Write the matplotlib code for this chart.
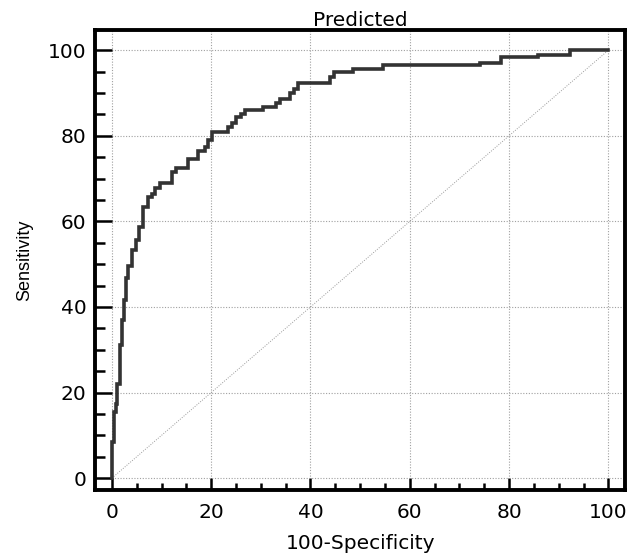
import matplotlib
matplotlib.use("Agg")
import matplotlib.pyplot as plt
from matplotlib.ticker import MultipleLocator

plt.rcParams['font.family'] = ['DejaVu Sans']

# ROC curve (100-Specificity, Sensitivity)
fpr = [0, 0, 0.4, 0.8, 1.1, 1.7, 2.1, 2.4, 2.8, 3.3, 4.0, 4.8, 5.5, 6.3, 7.3, 8.0,
       8.7, 9.7, 12.2, 13.0, 15.4, 17.4, 18.8, 19.4, 20.1, 23.4, 24.1, 25.0, 26.1,
       26.8, 30.4, 33.1, 33.9, 35.9, 36.6, 37.4, 43.9, 44.8, 48.6, 54.7, 74.2,
       78.4, 85.8, 92.3, 100]
tpr = [0, 8.5, 15.5, 17.3, 22.1, 31.1, 36.9, 41.6, 46.7, 49.5, 53.3, 55.6, 58.6,
       63.4, 65.7, 66.5, 67.7, 69.0, 71.6, 72.4, 74.5, 76.5, 77.4, 79.0, 80.9,
       82.1, 82.9, 84.4, 85.2, 86.1, 86.8, 87.7, 88.5, 90.0, 91.0, 92.4, 93.8,
       94.9, 95.5, 96.6, 97.1, 98.3, 98.8, 100, 100]
ticks = [0, 20, 40, 60, 80, 100]

fig = plt.figure(figsize=(6.29, 5.57), dpi=100)
ax = fig.add_axes([0.151, 0.120, 0.843, 0.826])

ax.plot([0, 100], [0, 100], color='#999999', lw=0.7, ls=(0, (1, 1.5)))
ax.step(fpr, tpr, where='post', color='#333333', lw=2.6, solid_joinstyle='miter')

ax.set_xlim(-3.4, 103.4)
ax.set_ylim(-2.8, 104.7)
ax.set_xticks(ticks)
ax.set_yticks(ticks)
ax.xaxis.set_minor_locator(MultipleLocator(5))
ax.yaxis.set_minor_locator(MultipleLocator(5))
ax.grid(True, which='major', color='#a0a0a0', lw=0.8, ls=(0, (1, 1.5)))

for s in ax.spines.values():
    s.set_linewidth(2.8)
ax.tick_params(axis='x', which='major', direction='in', length=8.6, width=1.8,
               labelsize=14.5, pad=9)
ax.tick_params(axis='x', which='minor', direction='in', length=5, width=1.8)
ax.tick_params(axis='y', which='major', direction='in', length=12, width=1.8,
               labelsize=14.5, pad=6)
ax.tick_params(axis='y', which='minor', direction='in', length=7, width=1.8)

ax.set_title('Predicted', fontsize=14.5, pad=3)
ax.set_xlabel('100-Specificity', fontsize=14.5, labelpad=9)
ax.set_ylabel('Sensitivity', fontsize=13, labelpad=11,
              family=['Liberation Sans', 'DejaVu Sans'])

fig.savefig('out.png', dpi=100)
